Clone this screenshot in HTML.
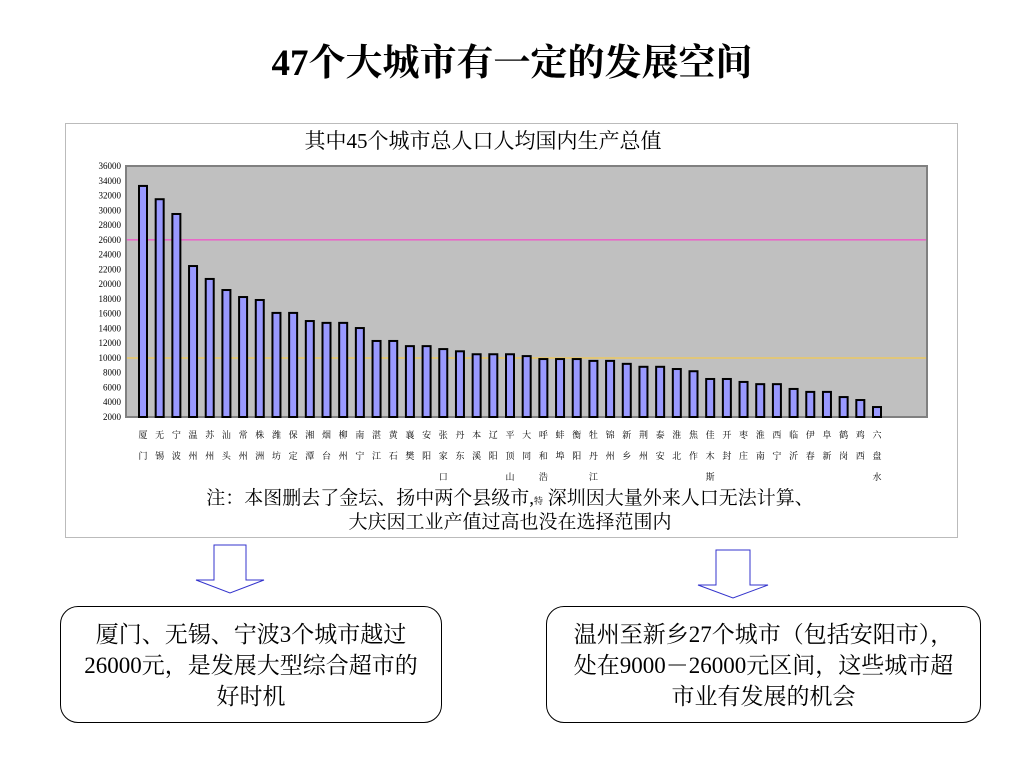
<!DOCTYPE html>
<html><head><meta charset="utf-8"><style>
body{margin:0;width:1024px;height:768px;background:#fff;position:relative;font-family:"Liberation Serif","Noto Serif CJK SC",serif;overflow:hidden}
.abs{position:absolute}
.box{border:1px solid #000;border-radius:18px;background:#fff;font-size:23px;line-height:31px;text-align:center}
</style></head><body>
<div class="abs" style="left:0;width:1024px;top:32px;text-align:center;font-size:37px;font-weight:bold">47个大城市有一定的发展空间</div>
<div class="abs" style="left:65px;top:123px;width:891px;height:413px;border:1px solid #bbb"></div>
<svg class="abs" style="left:0;top:0" width="1024" height="768">
<text x="483" y="148" text-anchor="middle" font-size="21" font-family="Liberation Serif,Noto Serif CJK SC,serif">其中45个城市总人口人均国内生产总值</text>
<rect x="126" y="166" width="801" height="251" fill="#c0c0c0" stroke="#808080" stroke-width="2"/>
<g id="g"></g>
<text x="510" y="504" text-anchor="middle" font-size="19" font-family="Liberation Serif,Noto Serif CJK SC,serif">注：本图删去了金坛、扬中两个县级市,<tspan font-size="9">特</tspan> 深圳因大量外来人口无法计算、</text>
<text x="510" y="528" text-anchor="middle" font-size="19" font-family="Liberation Serif,Noto Serif CJK SC,serif">大庆因工业产值过高也没在选择范围内</text>
<polygon points="214,545 246,545 246,580 264,580 230,593 196,580 214,580" fill="#fff" stroke="#3333cc" stroke-width="1"/>
<polygon points="716,550 750,550 750,585 768,585 733,598 698,585 716,585" fill="#fff" stroke="#3333cc" stroke-width="1"/>
</svg>
<div class="abs box" style="left:60px;top:606px;width:382px;height:117px;padding-top:12px;box-sizing:border-box">厦门、无锡、宁波3个城市越过<br>26000元，是发展大型综合超市的<br>好时机</div>
<div class="abs box" style="left:546px;top:606px;width:435px;height:117px;padding-top:12px;box-sizing:border-box">温州至新乡27个城市（包括安阳市），<br>处在9000－26000元区间，这些城市超<br>市业有发展的机会</div>
<script>
const cities=["厦门","无锡","宁波","温州","苏州","汕头","常州","株洲","潍坊","保定","湘潭","烟台","柳州","南宁","湛江","黄石","襄樊","安阳","张家口","丹东","本溪","辽阳","平顶山","大同","呼和浩特","蚌埠","衡阳","牡丹江","锦州","新乡","荆州","泰安","淮北","焦作","佳木斯","开封","枣庄","淮南","西宁","临沂","伊春","阜新","鹤岗","鸡西","六盘水"];
const gdp=[33300,31500,29500,22450,20700,19200,18250,17850,16100,16100,15000,14750,14750,14050,12300,12300,11600,11600,11200,10900,10500,10500,10500,10250,9850,9850,9850,9600,9600,9200,8800,8800,8500,8200,7150,7150,6750,6450,6450,5800,5400,5400,4700,4300,3350];
const yTicks=[2000,4000,6000,8000,10000,12000,14000,16000,18000,20000,22000,24000,26000,28000,30000,32000,34000,36000];
const refLines=[26000,10000];
const NS="http://www.w3.org/2000/svg",g=document.getElementById("g");
const y=v=>417-(v-2000)*251/34000;
const x=i=>143+i*(877-143)/(cities.length-1);
function mk(t,a){const e=document.createElementNS(NS,t);for(const k in a)e.setAttribute(k,a[k]);g.appendChild(e);return e;}
yTicks.forEach(v=>{const t=mk("text",{x:121,y:y(v)+3,"text-anchor":"end","font-size":9,"font-family":"Liberation Serif,serif"});


t.textContent=v;});
refLines.forEach((v,i)=>{const l=mk("line",{x1:127,x2:926,y1:y(v),y2:y(v),stroke:i?"#ffcc33":"#ff33cc","stroke-width":1});

});
gdp.forEach((v,i)=>{const r=mk("rect",{x:x(i)-4,y:y(v),width:8,height:417-y(v),fill:"#9999ff",stroke:"#000","stroke-width":2});


[...cities[i]].slice(0,2).forEach((c,j)=>{const t=mk("text",{x:x(i),y:438+j*21,"text-anchor":"middle","font-size":9,"font-family":"Noto Serif CJK SC,serif"});


t.textContent=c;});
const rest=cities[i].slice(2);if(rest){const t=mk("text",{x:x(i),y:480,"text-anchor":"middle","font-size":9,"font-family":"Noto Serif CJK SC,serif"});


t.textContent=rest[0];}
});
</script>
</body></html>
